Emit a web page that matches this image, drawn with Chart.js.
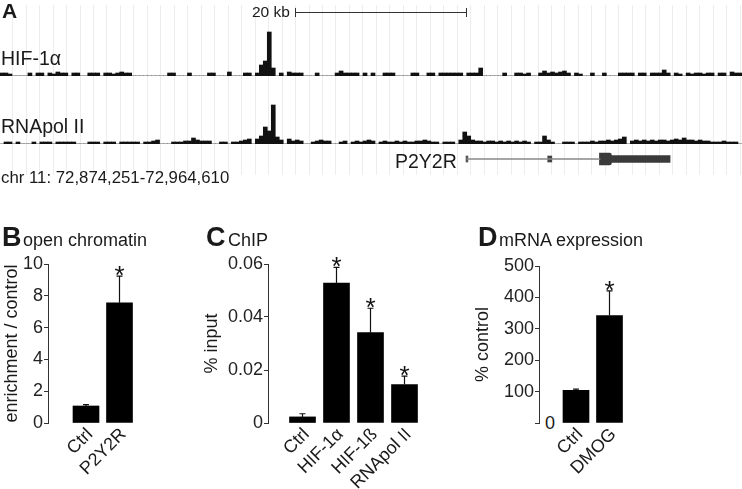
<!DOCTYPE html>
<html lang="en">
  <head>
    <meta charset="UTF-8" />
    <title>P2Y2R locus</title>
    <script src="https://cdn.jsdelivr.net/npm/chart.js"></script>
    <style>
      body {
        margin: 0;
        width: 742px;
        height: 489px;
        position: relative;
        overflow: hidden;
        background: #fff;
        font-family: "Liberation Sans", Arial, sans-serif;
        color: #1a1a1a;
      }
      canvas, .t { position: absolute; }
      .t { white-space: nowrap; line-height: 1; }
      .b { font-weight: bold; }
    </style>
  </head>
  <body>
    <canvas id="gridBg" width="742" height="170" style="left:0;top:5px"></canvas>
    <canvas id="hifTrack" width="742" height="46" style="left:0;top:30px"></canvas>
    <canvas id="polTrack" width="742" height="42" style="left:0;top:102px"></canvas>
    <canvas id="geneModel" width="742" height="20" style="left:0;top:149px"></canvas>

    <!-- scale bar -->
    <div style="position:absolute;left:295px;top:12px;width:171px;border-top:1px solid #333"></div>
    <div style="position:absolute;left:295px;top:8px;width:1px;height:9px;background:#333"></div>
    <div style="position:absolute;left:466px;top:8px;width:1px;height:9px;background:#333"></div>

    <div class="t b" style="left:2px;top:0px;font-size:21px">A</div>
    <div class="t" style="left:252px;top:4px;font-size:15.5px">20 kb</div>
    <div class="t" style="left:1px;top:48.5px;font-size:19.5px">HIF-1α</div>
    <div class="t" style="left:1px;top:116.5px;font-size:19.5px">RNApol II</div>
    <div class="t" style="left:395px;top:151.5px;font-size:19.5px">P2Y2R</div>
    <div class="t" style="left:1px;top:170px;font-size:16.8px">chr 11: 72,874,251-72,964,610</div>

    <div class="t b" style="left:2px;top:224px;font-size:27px">B</div>
    <div class="t" style="left:23px;top:231px;font-size:18px">open chromatin</div>
    <div class="t b" style="left:206px;top:224px;font-size:27px">C</div>
    <div class="t" style="left:228px;top:231px;font-size:18px">ChIP</div>
    <div class="t b" style="left:478px;top:224px;font-size:27px">D</div>
    <div class="t" style="left:499px;top:231px;font-size:18px">mRNA expression</div>
    <div class="t" style="left:545px;top:414px;font-size:18px">0</div>

    <canvas id="chartB" width="150" height="239" style="left:3px;top:250px"></canvas>
    <canvas id="chartC" width="240" height="239" style="left:203px;top:250px"></canvas>
    <canvas id="chartD" width="200" height="239" style="left:474px;top:250px"></canvas>

    <script>
      // Panel A: binned ChIP-seq signal (4 px bins across the window)
      const hifSignal = [
        3,3,2,0,0,0,0,3,0,3, 3,0,3,2,4,3,3,0,3,3, 0,0,3,3,3,0,3,3,2,3,
        4,3,3,0,0,0,0,0,0,0, 0,0,3,3,0,0,0,3,0,0, 0,0,3,3,0,0,0,4,0,0,
        0,3,3,0,3,11,15,44,8,0, 3,0,4,3,3,3,0,0,0,3, 0,0,0,0,3,5,3,3,3,3,
        0,3,0,3,0,0,3,3,3,0, 0,0,0,3,3,0,0,3,3,0, 3,3,3,3,3,3,0,3,3,3,
        8,0,0,0,0,0,3,0,0,3, 3,2,3,0,0,3,5,3,4,3, 4,5,3,0,3,2,0,0,3,0,
        0,3,0,0,0,3,3,3,3,0, 3,3,0,3,3,3,6,3,0,3, 2,0,3,2,3,3,2,3,3,0,
        3,3,0,4,3,3
      ];
      const polSignal = [
        0,2,2,0,2,0,0,0,2,0, 2,2,2,0,2,2,2,2,2,0, 0,0,2,2,2,0,2,2,2,0,
        2,2,2,2,2,0,2,2,3,4, 0,0,0,2,2,2,3,3,6,4, 3,3,3,0,0,2,2,0,2,2,
        3,4,5,0,5,8,17,13,39,7, 4,0,5,3,4,3,0,0,2,3, 4,3,3,0,0,2,3,0,2,3,
        2,3,4,3,0,2,3,2,2,3, 2,3,2,2,3,3,4,3,2,2, 0,2,2,2,0,4,12,8,4,3,
        3,2,3,3,2,3,2,3,2,3, 2,3,2,0,2,2,8,4,2,0, 0,2,2,2,0,2,2,2,3,2,
        3,3,4,3,4,5,7,0,3,4, 3,4,3,4,3,4,4,3,4,5, 4,6,4,4,3,4,3,3,2,2,
        2,3,2,2,2,0
      ];

      // gene model, kb from window start (72,874,251 - 72,964,610)
      const windowKb = 90.359;
      const geneIntron = [56.87, 73.07];
      const geneStart = [56.75, 56.98];
      const geneExon2 = [66.7, 67.2];
      const geneExon3 = [73.0, 74.45];
      const geneCds = [74.45, 81.6];

      // Panel B
      const chromatinCats = ["Ctrl", "P2Y2R"];
      const chromatinVals = [1.07, 7.56];
      const chromatinErr = [0.09, 1.68];
      const chromatinSig = [false, true];

      // Panel C
      const chipCats = ["Ctrl", "HIF-1α", "HIF-1ß", "RNApol II"];
      const chipVals = [0.0023, 0.0528, 0.0341, 0.0145];
      const chipErr = [0.0012, 0.0059, 0.0092, 0.0032];
      const chipSig = [false, true, true, true];

      // Panel D
      const mrnaCats = ["Ctrl", "DMOG"];
      const mrnaVals = [104, 342];
      const mrnaErr = [4, 79];
      const mrnaSig = [false, true];

      Chart.defaults.font.family = "'Liberation Sans', Arial, sans-serif";
      Chart.defaults.color = "#1a1a1a";
      Chart.defaults.animation = false;
      Chart.defaults.responsive = false;
      Chart.defaults.devicePixelRatio = 1;
      Chart.defaults.plugins.legend.display = false;
      Chart.defaults.plugins.tooltip.enabled = false;

      // faint browser grid lines behind panel A
      const gridStep = 13.47;
      const gridMin = -12.7 / gridStep;
      new Chart(document.getElementById("gridBg"), {
        type: "scatter",
        data: { datasets: [] },
        options: {
          layout: { padding: 0 },
          scales: {
            x: {
              type: "linear",
              min: gridMin,
              max: gridMin + 742 / gridStep,
              afterBuildTicks: (s) => {
                const t = [];
                for (let k = 0; k <= 55; k++) t.push({ value: k });
                s.ticks = t;
              },
              ticks: { display: false },
              grid: { color: "#ededed", drawTicks: false },
              border: { display: false },
            },
            y: { display: false },
          },
        },
      });

      function makeTrack(id, values, maxVal) {
        new Chart(document.getElementById(id), {
          type: "bar",
          data: {
            labels: values.map((_, i) => i),
            datasets: [
              {
                data: values,
                backgroundColor: "#111",
                borderWidth: 0,
                barPercentage: 1,
                categoryPercentage: 1,
              },
            ],
          },
          options: {
            layout: { padding: 0 },
            scales: {
              x: { display: false },
              y: { display: false, min: 0, max: maxVal },
            },
          },
        });
      }
      makeTrack("hifTrack", hifSignal, 46);
      makeTrack("polTrack", polSignal, 42);

      new Chart(document.getElementById("geneModel"), {
        type: "bar",
        data: {
          labels: ["P2Y2R"],
          datasets: [
            { data: [geneIntron], barThickness: 1, backgroundColor: "#888" },
            { data: [geneStart], barThickness: 6, backgroundColor: "#555" },
            { data: [geneExon2], barThickness: 6, backgroundColor: "#444" },
            { data: [geneExon3], barThickness: 12, backgroundColor: "#3a3a3a", borderRadius: 2 },
            { data: [geneCds], barThickness: 7, backgroundColor: "#3a3a3a" },
          ],
        },
        options: {
          indexAxis: "y",
          layout: { padding: 0 },
          datasets: { bar: { grouped: false } },
          scales: {
            x: { type: "linear", display: false, min: 0, max: windowKb },
            y: { display: false },
          },
        },
      });

      // error bars + significance stars
      const errorBars = {
        id: "errorBars",
        afterDatasetsDraw(chart, args, opts) {
          const { ctx } = chart;
          const y = chart.scales.y;
          const meta = chart.getDatasetMeta(0);
          const vals = chart.data.datasets[0].data;
          ctx.save();
          ctx.strokeStyle = "#111";
          ctx.fillStyle = "#111";
          ctx.lineWidth = 1.2;
          ctx.font = "26px 'Liberation Sans', Arial, sans-serif";
          ctx.textAlign = "center";
          ctx.textBaseline = "alphabetic";
          meta.data.forEach((bar, i) => {
            const top = y.getPixelForValue(vals[i].y + opts.errs[i]);
            ctx.beginPath();
            ctx.moveTo(bar.x, bar.y);
            ctx.lineTo(bar.x, top);
            ctx.moveTo(bar.x - 3, top);
            ctx.lineTo(bar.x + 3, top);
            ctx.stroke();
            if (opts.sig[i]) ctx.fillText("*", bar.x, top + 8);
          });
          ctx.restore();
        },
      };

      function makePanel(id, p) {
        // p.left: canvas left, p.width, p.axisX: y axis pixel, p.c0: first bar centre, p.step
        const yWidth = p.axisX - p.left;
        const xmin = (p.axisX - p.c0) / p.step;
        const xmax = xmin + (p.left + p.width - p.axisX) / p.step;
        new Chart(document.getElementById(id), {
          type: "bar",
          data: {
            datasets: [
              {
                data: p.vals.map((v, i) => ({ x: i, y: v })),
                backgroundColor: "#000",
                borderWidth: 0,
                barThickness: 26,
              },
            ],
          },
          plugins: [errorBars],
          options: {
            layout: { padding: { top: p.padTop, left: 0, right: 0, bottom: 0 } },
            plugins: { errorBars: { errs: p.errs, sig: p.sig } },
            scales: {
              x: {
                type: "linear",
                offset: false,
                min: xmin,
                max: xmax,
                afterBuildTicks: (s) => {
                  s.ticks = p.cats.map((_, i) => ({ value: i }));
                },
                afterFit: (s) => {
                  s.height = 66;
                },
                grid: { display: false, drawTicks: false },
                border: { display: false },
                ticks: {
                  autoSkip: false,
                  minRotation: 45,
                  maxRotation: 45,
                  padding: 1,
                  labelOffset: 4,
                  font: { size: 18 },
                  callback: (v) => p.cats[v] ?? "",
                },
              },
              y: {
                min: 0,
                max: p.ymax,
                afterFit: (s) => {
                  s.width = yWidth;
                },
                ticks: {
                  stepSize: p.ystep,
                  padding: 1,
                  font: { size: 18 },
                  color: "#222",
                  callback: p.yfmt,
                },
                grid: {
                  drawOnChartArea: false,
                  tickLength: 4,
                  color: "#333",
                },
                border: { display: true, color: "#333", width: 1 },
                title: {
                  display: true,
                  text: p.ytitle,
                  font: { size: 18, lineHeight: 1 },
                  padding: 0,
                  color: "#1a1a1a",
                },
              },
            },
          },
        });
      }

      makePanel("chartB", {
        left: 3, width: 150, axisX: 48, c0: 86, step: 33.5, padTop: 14,
        cats: chromatinCats, vals: chromatinVals, errs: chromatinErr, sig: chromatinSig,
        ymax: 10, ystep: 2, ytitle: "enrichment / control",
        yfmt: (v) => String(v),
      });
      makePanel("chartC", {
        left: 203, width: 240, axisX: 268, c0: 302.5, step: 34, padTop: 14,
        cats: chipCats, vals: chipVals, errs: chipErr, sig: chipSig,
        ymax: 0.06, ystep: 0.02, ytitle: "% input",
        yfmt: (v) => (v === 0 ? "0" : v.toFixed(2)),
      });
      makePanel("chartD", {
        left: 474, width: 200, axisX: 539, c0: 576, step: 33.5, padTop: 16,
        cats: mrnaCats, vals: mrnaVals, errs: mrnaErr, sig: mrnaSig,
        ymax: 500, ystep: 100, ytitle: "% control",
        yfmt: (v) => (v === 0 ? "" : String(v)),
      });
    </script>
  </body>
</html>
